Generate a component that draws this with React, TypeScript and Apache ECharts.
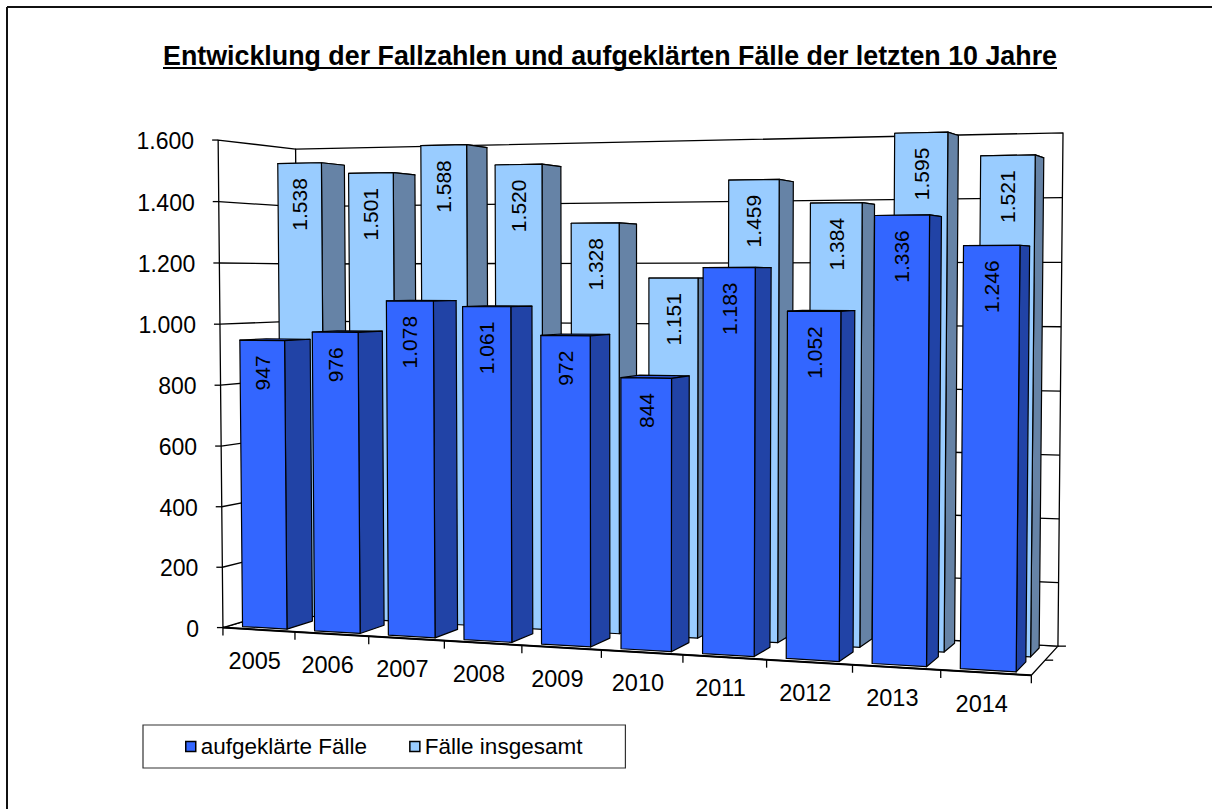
import React, { useEffect, useRef } from 'react';
import * as echarts from 'echarts';

// ---------------- data ----------------
const years = ['2005', '2006', '2007', '2008', '2009', '2010', '2011', '2012', '2013', '2014'];
const solvedCases = [947, 976, 1078, 1061, 972, 844, 1183, 1052, 1336, 1246];
const totalCases = [1538, 1501, 1588, 1520, 1328, 1151, 1459, 1384, 1595, 1521];
const yTicks = [0, 200, 400, 600, 800, 1000, 1200, 1400, 1600];
const seriesNames = ['aufgeklärte Fälle', 'Fälle insgesamt'];
const titleText = 'Entwicklung der Fallzahlen und aufgeklärten Fälle der letzten 10 Jahre';
const Y_MAX = 1600;

// ---------------- perspective calibration (layout) ----------------
// [X (0..1 along categories), V (0..1 of value range), Z (0 front .. 1 back), px, py]
const CALIB: number[][] = [
  [0, 0, 0, 224, 628],
  [0, 1, 0, 218, 140],
  [0, 0.625, 0, 220, 324],
  [0, 1, 1, 296, 149],
  [0, 0.625, 1, 296.5, 321],
  [1, 1, 1, 1063, 133],
  [1, 0.875, 1, 1062.4, 198],
  [1, 0.5, 1, 1060.5, 391],
  [1, 0.25, 1, 1059.2, 519],
  [1, 0, 1, 1058, 646],
  [1, 0, 0, 1032, 675],
  [0.5, 0, 0, 601, 650],
  [0.2, 0, 0, 368, 636.4],
  [0.8, 0, 0, 852, 664.5],
];

function solveCamera(): number[] {
  const n = 11;
  const M: number[][] = Array.from({ length: n }, () => new Array(n + 1).fill(0));
  const add = (r: number[], b: number) => {
    for (let i = 0; i < n; i++) {
      for (let j = 0; j < n; j++) M[i][j] += r[i] * r[j];
      M[i][n] += r[i] * b;
    }
  };
  for (const [X, Y, Z, px, py] of CALIB) {
    const u = (px - 600) / 500;
    const v = (py - 400) / 500;
    add([X, Y, Z, 1, 0, 0, 0, 0, -u * X, -u * Y, -u * Z], u);
    add([0, 0, 0, 0, X, Y, Z, 1, -v * X, -v * Y, -v * Z], v);
  }
  for (let c = 0; c < n; c++) {
    let p = c;
    for (let r = c + 1; r < n; r++) if (Math.abs(M[r][c]) > Math.abs(M[p][c])) p = r;
    const tmp = M[c]; M[c] = M[p]; M[p] = tmp;
    for (let r = 0; r < n; r++) {
      if (r === c) continue;
      const f = M[r][c] / M[c][c];
      for (let k = c; k <= n; k++) M[r][k] -= f * M[c][k];
    }
  }
  return M.map((row, i) => row[n] / row[i]);
}
const CAM = solveCamera();
function proj(X: number, Y: number, Z: number): number[] {
  const p = CAM;
  const w = p[8] * X + p[9] * Y + p[10] * Z + 1;
  return [
    ((p[0] * X + p[1] * Y + p[2] * Z + p[3]) / w) * 500 + 600,
    ((p[4] * X + p[5] * Y + p[6] * Z + p[7]) / w) * 500 + 400,
  ];
}

const FONT = '"Liberation Sans", Arial, Helvetica, sans-serif';
const TITLE_FONT = 'bold 28px "Liberation Sans", Arial, sans-serif';
const TITLE_WIDTH = 894;
const BAR_FRAC = 0.62;

function fmt(n: number): string {
  if (n < 1000) return String(n);
  const th = Math.floor(n / 1000);
  const rest = String(n % 1000).padStart(3, '0');
  return th + '.' + rest;
}

function poly(points: number[][], fill: string, lw = 1.2) {
  return {
    type: 'polygon',
    shape: { points },
    style: { fill, stroke: '#000', lineWidth: lw, lineJoin: 'round' },
  };
}
function seg(a: number[], b: number[], lw = 1.3) {
  return {
    type: 'line',
    shape: { x1: a[0], y1: a[1], x2: b[0], y2: b[1] },
    style: { stroke: '#000', lineWidth: lw },
  };
}
function txt(x: number, y: number, text: string, size: number, align: string, valign: string, rotation = 0) {
  return {
    type: 'text',
    x,
    y,
    rotation,
    style: {
      text,
      fill: '#000',
      font: `${size}px ${FONT}`,
      textAlign: align,
      textVerticalAlign: valign,
      align,
      verticalAlign: valign,
    },
  };
}

function makeBarRender(z0: number, z1: number, cFront: string, cSide: string, cTop: string) {
  return (params: any, api: any) => {
    const cs = params.coordSys;
    const idx = api.value(0);
    const val = api.value(1);
    const top = api.coord([idx, val]);
    const base = api.coord([idx, 0]);
    const band = api.size([1, 0])[0];
    const xc = (top[0] - cs.x) / cs.width;
    const hw = (band * BAR_FRAC) / 2 / cs.width;
    const vt = (cs.y + cs.height - top[1]) / cs.height;
    const vb = (cs.y + cs.height - base[1]) / cs.height;
    const x0 = xc - hw;
    const x1 = xc + hw;
    const front = [proj(x0, vb, z0), proj(x1, vb, z0), proj(x1, vt, z0), proj(x0, vt, z0)];
    const side = [proj(x1, vb, z0), proj(x1, vb, z1), proj(x1, vt, z1), proj(x1, vt, z0)];
    const topF = [proj(x0, vt, z0), proj(x1, vt, z0), proj(x1, vt, z1), proj(x0, vt, z1)];
    const ft = proj(xc, vt, z0);
    return {
      type: 'group',
      children: [
        poly(topF, cTop),
        poly(side, cSide),
        poly(front, cFront),
        txt(ft[0], ft[1] + 15, fmt(val), 21, 'right', 'middle', Math.PI / 2),
      ],
    };
  };
}

function frameRender(params: any, api: any) {
  const cs = params.coordSys;
  const band = api.size([1, 0])[0];
  const vNorm = (v: number) => (cs.y + cs.height - api.coord([0, v])[1]) / cs.height;
  const children: any[] = [];
  // floor and walls
  children.push(poly([proj(0, 0, 0), proj(1, 0, 0), proj(1, 0, 1), proj(0, 0, 1)], '#fff', 1.3));
  children.push(poly([proj(0, 0, 0), proj(0, 1, 0), proj(0, 1, 1), proj(0, 0, 1)], '#fff', 1.3));
  children.push(poly([proj(0, 0, 1), proj(1, 0, 1), proj(1, 1, 1), proj(0, 1, 1)], '#fff', 1.3));
  // gridlines + y ticks + labels
  yTicks.forEach((t) => {
    const v = vNorm(t);
    if (t > 0 && t < Y_MAX) {
      children.push(seg(proj(0, v, 0), proj(0, v, 1)));
      children.push(seg(proj(0, v, 1), proj(1, v, 1)));
    }
    const a = proj(0, v, 0);
    children.push(seg([a[0] - 6, a[1]], a));
    children.push(txt(a[0] - 24, a[1] + 1, fmt(t), 23, 'right', 'middle'));
  });
  // front floor edge thicker
  children.push(seg(proj(0, 0, 0), proj(1, 0, 0), 2));
  // category ticks and labels
  for (let k = 0; k <= years.length; k++) {
    const px = api.coord([Math.min(k, years.length - 1), 0])[0] + (k === years.length ? band / 2 : -band / 2);
    const X = (px - cs.x) / cs.width;
    const p = proj(X, 0, 0);
    children.push(seg(p, [p[0], p[1] + 8]));
  }
  years.forEach((y, i) => {
    const X = (api.coord([i, 0])[0] - cs.x) / cs.width;
    const p = proj(X, 0, 0);
    children.push(txt(p[0] - 4, p[1] + 31, y, 23.5, 'center', 'middle'));
  });
  // depth ticks on right floor edge
  [0.5, 1].forEach((z) => {
    const p = proj(1, 0, z);
    children.push(seg(p, [p[0] + 8, p[1]]));
  });
  return { type: 'group', children };
}

function measure(text: string, font: string): number {
  const c = document.createElement('canvas');
  const ctx = c.getContext('2d');
  if (!ctx) return TITLE_WIDTH;
  ctx.font = font;
  return ctx.measureText(text).width || TITLE_WIDTH;
}

export default function App() {
  const ref = useRef<HTMLDivElement>(null);
  useEffect(() => {
    if (!ref.current) return;
    const chart = echarts.init(ref.current, undefined, { renderer: 'svg' });
    const tw = measure(titleText, TITLE_FONT);
    const sx = TITLE_WIDTH / tw;
    const cx = 610;
    const option: any = {
      animation: false,
      backgroundColor: '#fff',
      grid: { left: 0, top: 0, width: 1000, height: 800, show: false },
      xAxis: { type: 'category', data: years, show: false },
      yAxis: { type: 'value', min: 0, max: Y_MAX, interval: 200, show: false },
      legend: {
        data: seriesNames,
        left: 143,
        top: 725,
        orient: 'horizontal',
        padding: [10, 43, 10, 42],
        itemGap: 42,
        itemWidth: 10,
        itemHeight: 10,
        icon: 'rect',
        borderColor: '#333',
        borderWidth: 1.2,
        backgroundColor: '#fff',
        selectedMode: false,
        textStyle: { fontSize: 22.5, fontFamily: FONT, color: '#000' },
        itemStyle: { borderColor: '#000', borderWidth: 1.5 },
      },
      graphic: [
        {
          type: 'text',
          x: cx,
          y: 55,
          scaleX: sx,
          style: {
            text: titleText,
            fill: '#000',
            font: TITLE_FONT,
            textAlign: 'center',
            textVerticalAlign: 'middle',
            align: 'center',
            verticalAlign: 'middle',
          },
        },
        {
          type: 'line',
          shape: { x1: cx - TITLE_WIDTH / 2, y1: 68, x2: cx + TITLE_WIDTH / 2, y2: 68 },
          style: { stroke: '#000', lineWidth: 2.2 },
        },
        { type: 'line', shape: { x1: 7, y1: 7, x2: 1212, y2: 7 }, style: { stroke: '#111', lineWidth: 2 } },
        { type: 'line', shape: { x1: 7, y1: 7, x2: 7, y2: 809 }, style: { stroke: '#111', lineWidth: 2 } },
      ],
      series: [
        {
          name: '__frame',
          type: 'custom',
          coordinateSystem: 'cartesian2d',
          renderItem: frameRender,
          data: [[0, 0]],
          silent: true,
          clip: false,
          z: 1,
        },
        {
          name: seriesNames[1],
          type: 'custom',
          coordinateSystem: 'cartesian2d',
          renderItem: makeBarRender(0.58, 0.9, '#99CCFF', '#6683A6', '#85B2E0'),
          data: totalCases.map((v, i) => [i, v]),
          itemStyle: { color: '#99CCFF' },
          silent: true,
          clip: false,
          z: 2,
        },
        {
          name: seriesNames[0],
          type: 'custom',
          coordinateSystem: 'cartesian2d',
          renderItem: makeBarRender(0.075, 0.41, '#3366FF', '#2143A6', '#2C59E0'),
          data: solvedCases.map((v, i) => [i, v]),
          itemStyle: { color: '#3366FF' },
          silent: true,
          clip: false,
          z: 3,
        },
      ],
    };
    chart.setOption(option);
    return () => chart.dispose();
  }, []);
  return (
    <div
      ref={ref}
      style={{ position: 'absolute', left: 0, top: 0, width: 1212, height: 809, background: '#fff' }}
    />
  );
}
